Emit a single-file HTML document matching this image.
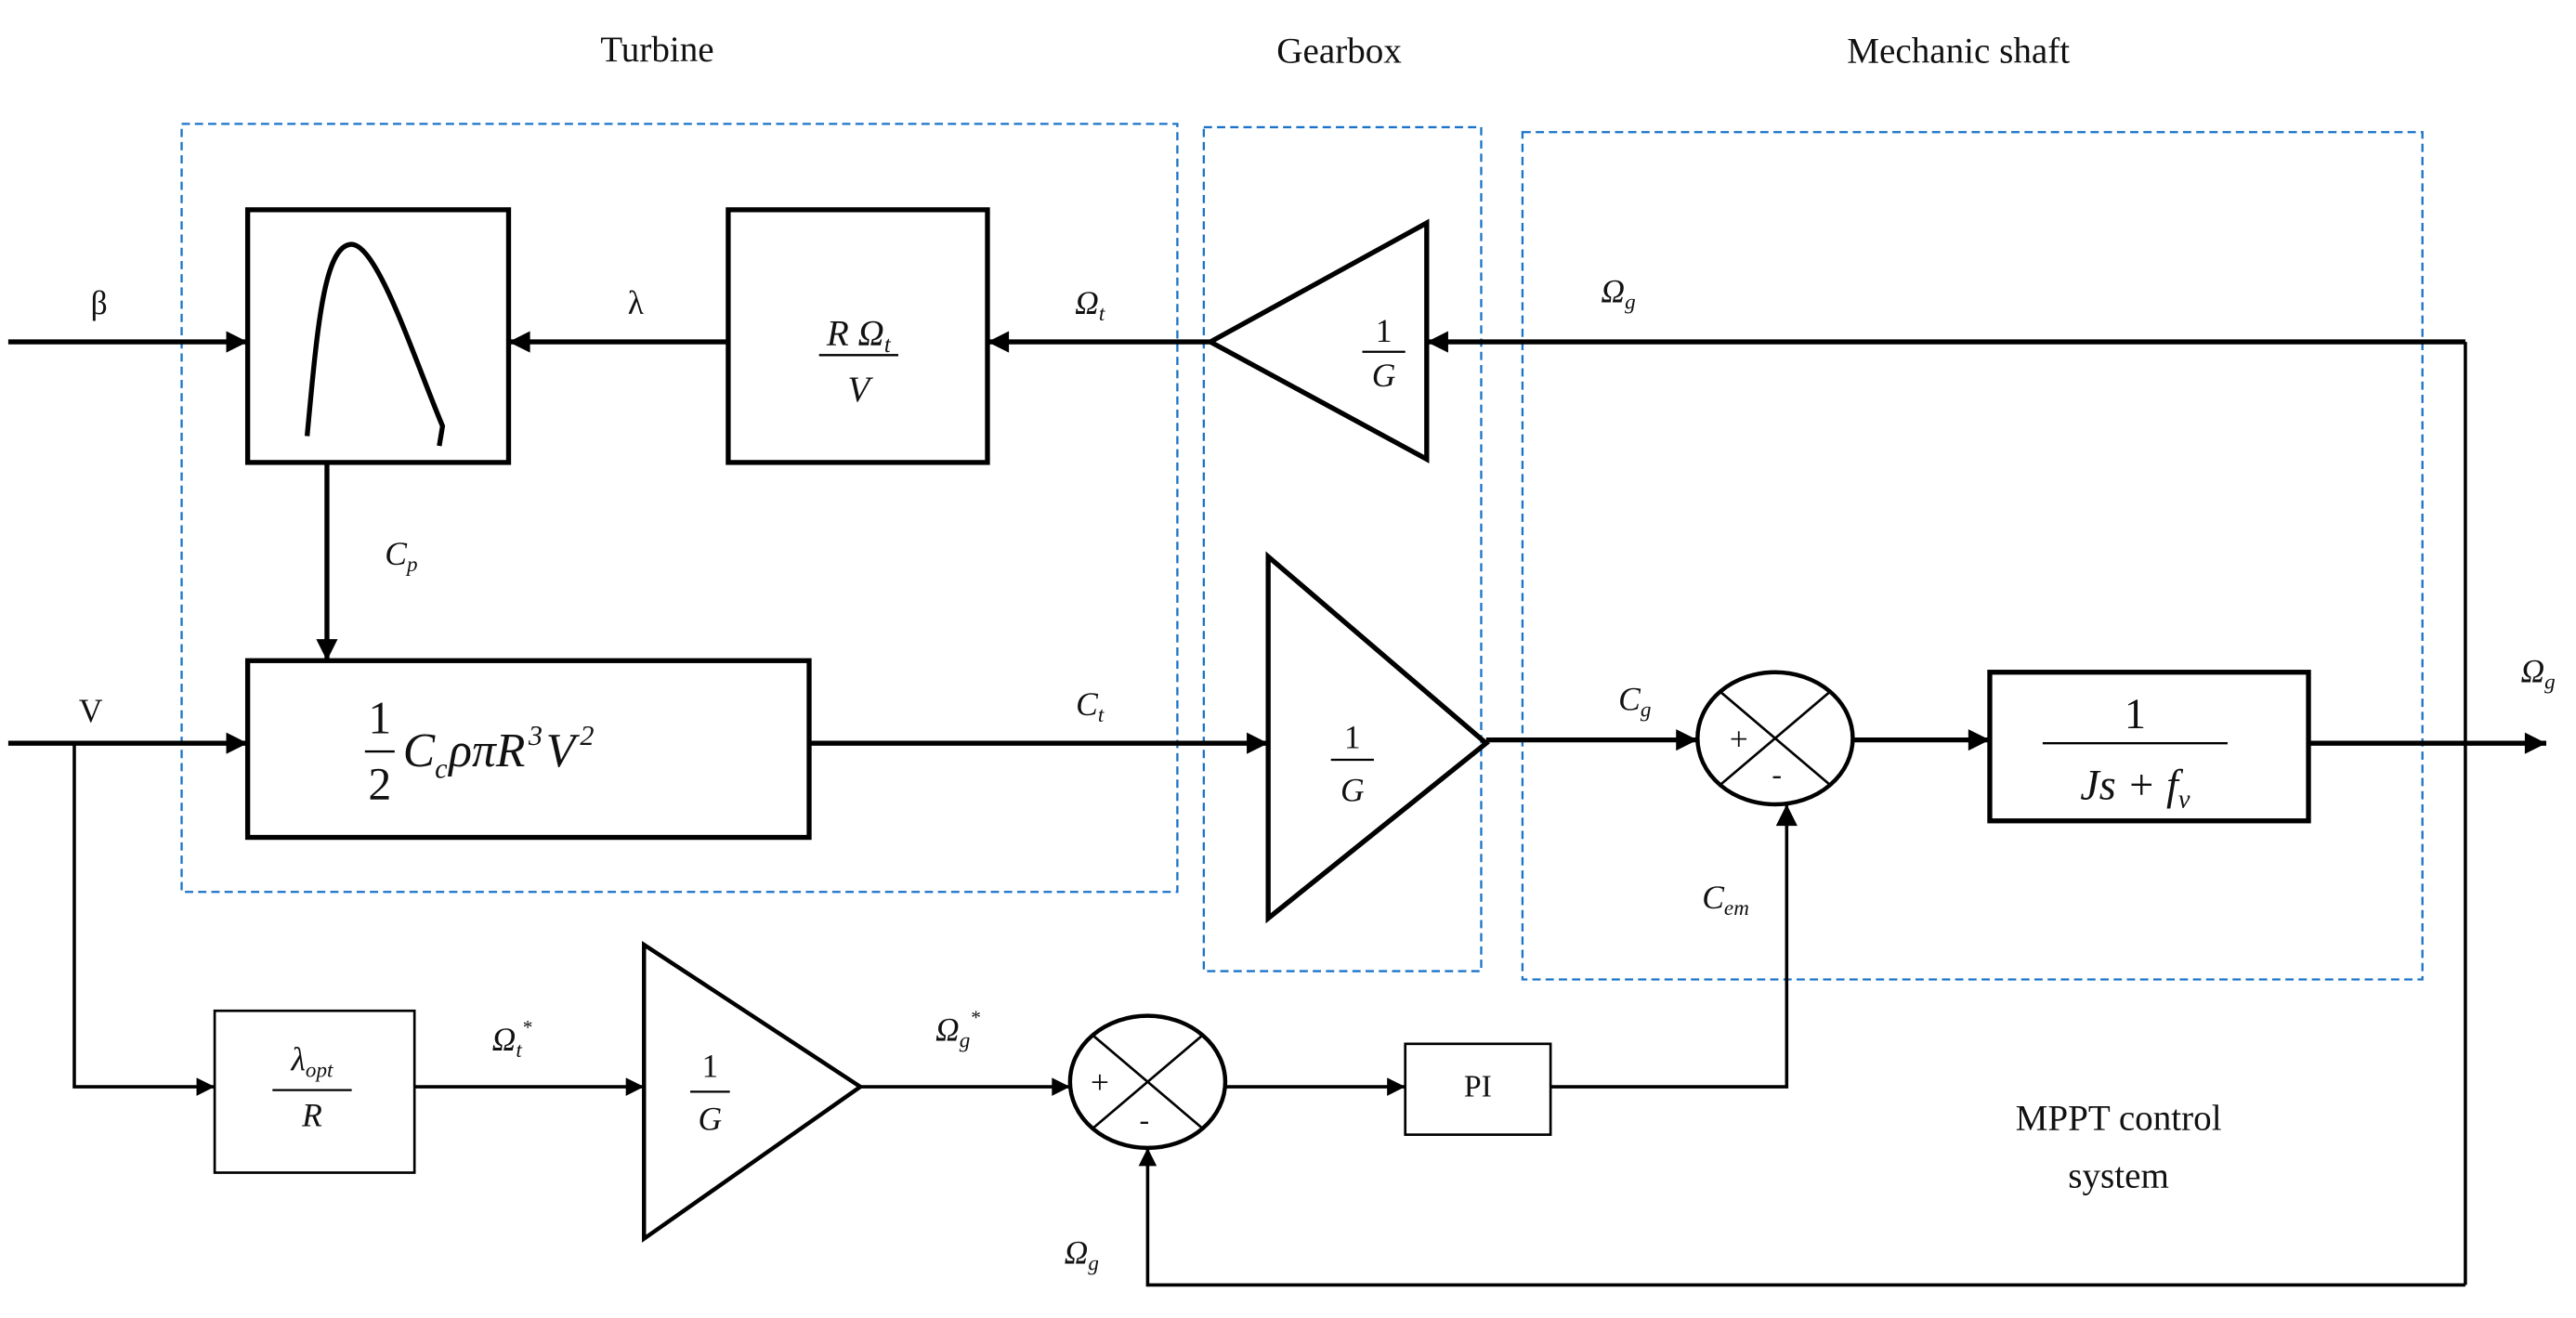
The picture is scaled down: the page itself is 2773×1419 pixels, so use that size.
<!DOCTYPE html>
<html><head><meta charset="utf-8"><style>
html,body{margin:0;padding:0;background:#fff;}
svg{display:block;}
text{font-family:"Liberation Serif",serif;fill:#111;}
.m{font-style:italic;}
</style></head><body>
<svg width="2773" height="1419" viewBox="0 0 1560 798" preserveAspectRatio="none" xmlns="http://www.w3.org/2000/svg">
<defs>
<marker id="a" viewBox="0 0 10 10" refX="10" refY="5" markerWidth="15" markerHeight="13" orient="auto" markerUnits="userSpaceOnUse">
<path d="M0,0 L10,5 L0,10 z" fill="#000"/>
</marker>
<marker id="b" viewBox="0 0 10 10" refX="10" refY="5" markerWidth="13" markerHeight="11" orient="auto" markerUnits="userSpaceOnUse">
<path d="M0,0 L10,5 L0,10 z" fill="#000"/>
</marker>
</defs>
<g fill="none" stroke="#1a73c8" stroke-width="1.3" stroke-dasharray="5,3">
<rect x="110" y="75" width="603" height="465"/>
<rect x="729" y="77" width="168" height="511"/>
<rect x="922" y="80" width="545" height="513"/>
</g>
<g font-size="22" text-anchor="middle">
<text x="398" y="37">Turbine</text>
<text x="811" y="38">Gearbox</text>
<text x="1186" y="38">Mechanic shaft</text>
<text x="1283" y="684">MPPT control</text>
<text x="1283" y="719">system</text>
</g>
<g stroke="#000" stroke-width="3" fill="none">
<rect x="150" y="127" width="158" height="153"/>
<rect x="441" y="127" width="157" height="153"/>
<rect x="150" y="400" width="340" height="107"/>
<rect x="1205" y="407" width="193" height="90"/>
<path d="M186,264 C192,200 196,150 212,148 C228,146 250,215 268,258 L266,270"/>
<path d="M733,207 L864,135 L864,278 Z"/>
<path d="M768,337 L900,450 L768,556 Z"/>
<path d="M390,572 L521,658 L390,750 Z" stroke-width="2.5"/>
<line x1="5" y1="207" x2="150" y2="207" marker-end="url(#a)"/>
<line x1="441" y1="207" x2="308" y2="207" marker-end="url(#a)"/>
<line x1="733" y1="207" x2="598" y2="207" marker-end="url(#a)"/>
<line x1="1493" y1="207" x2="864" y2="207" marker-end="url(#a)"/>
<line x1="198" y1="280" x2="198" y2="400" marker-end="url(#a)"/>
<line x1="5" y1="450" x2="150" y2="450" marker-end="url(#a)"/>
<line x1="490" y1="450" x2="768" y2="450" marker-end="url(#a)"/>
<line x1="900" y1="448" x2="1028" y2="448" marker-end="url(#a)"/>
<line x1="1122" y1="448" x2="1205" y2="448" marker-end="url(#a)"/>
<line x1="1398" y1="450" x2="1542" y2="450" marker-end="url(#a)"/>
</g>
<g stroke="#000" stroke-width="2" fill="none">
<line x1="1493" y1="207" x2="1493" y2="778"/>
<polyline points="1493,778 695,778 695,695" marker-end="url(#b)"/>
<polyline points="45,450 45,658 130,658" marker-end="url(#b)"/>
<line x1="251" y1="658" x2="390" y2="658" marker-end="url(#b)"/>
<line x1="521" y1="658" x2="648" y2="658" marker-end="url(#b)"/>
<line x1="742" y1="658" x2="851" y2="658" marker-end="url(#b)"/>
<polyline points="939,658 1082,658 1082,487" marker-end="url(#a)"/>
<rect x="130" y="612" width="121" height="98" stroke-width="1.5"/>
<rect x="851" y="632" width="88" height="55" stroke-width="1.5"/>
<ellipse cx="1075" cy="447" rx="47" ry="40" stroke-width="2.5"/>
<ellipse cx="695" cy="655" rx="47" ry="40" stroke-width="2.5"/>
<line x1="1042" y1="419" x2="1108" y2="475" stroke-width="1.5"/>
<line x1="1108" y1="419" x2="1042" y2="475" stroke-width="1.5"/>
<line x1="662" y1="627" x2="728" y2="683" stroke-width="1.5"/>
<line x1="728" y1="627" x2="662" y2="683" stroke-width="1.5"/>
</g>
<g stroke="#000" stroke-width="1.3">
<line x1="496" y1="215" x2="544" y2="215"/>
<line x1="825" y1="213" x2="851" y2="213"/>
<line x1="806" y1="460" x2="832" y2="460"/>
<line x1="221" y1="455" x2="239" y2="455"/>
<line x1="1237" y1="450" x2="1349" y2="450"/>
<line x1="165" y1="660" x2="213" y2="660"/>
<line x1="418" y1="661" x2="442" y2="661"/>
</g>
<g font-size="20" text-anchor="middle">
<text x="60" y="190">β</text>
<text x="385" y="190">λ</text>
<text x="660" y="190" class="m">Ω<tspan font-size="13" dy="4">t</tspan></text>
<text x="980" y="183" class="m">Ω<tspan font-size="13" dy="4">g</tspan></text>
<text x="243" y="342" class="m">C<tspan font-size="13" dy="4">p</tspan></text>
<text x="55" y="437">V</text>
<text x="660" y="433" class="m">C<tspan font-size="13" dy="4">t</tspan></text>
<text x="990" y="430" class="m">C<tspan font-size="13" dy="4">g</tspan></text>
<text x="1045" y="550" class="m">C<tspan font-size="13" dy="4">em</tspan></text>
<text x="1537" y="413" class="m">Ω<tspan font-size="13" dy="4">g</tspan></text>
<text x="310" y="636" class="m">Ω<tspan font-size="13" dy="4">t</tspan><tspan font-size="12" dy="-14">*</tspan></text>
<text x="580" y="630" class="m">Ω<tspan font-size="13" dy="4">g</tspan><tspan font-size="12" dy="-14">*</tspan></text>
<text x="655" y="765" class="m">Ω<tspan font-size="13" dy="4">g</tspan></text>
<text x="520" y="209" class="m" font-size="22">R Ω<tspan font-size="14" dy="4">t</tspan></text>
<text x="520" y="243" class="m" font-size="22">V</text>
<text x="838" y="207">1</text>
<text x="838" y="234" class="m">G</text>
<text x="819" y="453">1</text>
<text x="819" y="485" class="m">G</text>
<text x="230" y="444" font-size="28">1</text>
<text x="230" y="484" font-size="28">2</text>
<text x="244" y="464" text-anchor="start" class="m" font-size="29">C<tspan font-size="17" dy="7">c</tspan><tspan dy="-7" dx="1">ρπR</tspan><tspan font-size="17" dy="-13" dx="2">3</tspan><tspan dy="13" dx="2">V</tspan><tspan font-size="17" dy="-13" dx="3">2</tspan></text>
<text x="1293" y="441" font-size="26">1</text>
<text x="1293" y="484" class="m" font-size="26">Js + f<tspan font-size="16" dy="5">v</tspan></text>
<text x="189" y="648" class="m">λ<tspan font-size="13" dy="4">opt</tspan></text>
<text x="189" y="682" class="m">R</text>
<text x="430" y="652">1</text>
<text x="430" y="684" class="m">G</text>
<text x="895" y="664" font-size="19">PI</text>
<text x="1053" y="454" font-size="20">+</text>
<text x="1076" y="475" font-size="18">-</text>
<text x="666" y="662" font-size="20">+</text>
<text x="693" y="684" font-size="18">-</text>
</g>
</svg>
</body></html>
